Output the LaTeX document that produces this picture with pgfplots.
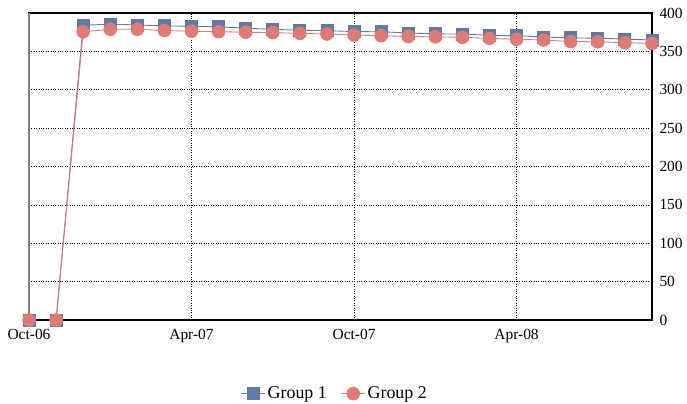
\documentclass[border=0pt]{standalone}
\usepackage{fontspec}
\setmainfont{Liberation Serif}
\usepackage{pgfplots}
\usepackage{pgfplotstable}
\pgfplotsset{compat=1.18}
\definecolor{grpA}{RGB}{96,122,166}
\definecolor{grpB}{RGB}{224,122,116}

% month index (0 = Oct-06), Group 1, Group 2
\pgfplotstableread{
m  g1     g2
0  0      0
1  0      0
2  384.0  375.5
3  385.5  378.8
4  384.4  378.8
5  383.2  377.2
6  382.8  376.3
7  382.0  375.6
8  380.2  375.0
9  378.8  374.4
10 377.5  373.5
11 377.0  372.6
12 375.8  371.3
13 375.5  370.4
14 374.0  369.3
15 372.8  369.0
16 372.5  368.3
17 371.0  367.0
18 370.4  365.7
19 368.7  364.8
20 367.6  362.8
21 367.2  362.5
22 366.0  361.3
23 364.8  360.3
}\datatable

\begin{document}
\begin{tikzpicture}
\path[use as bounding box] (0,0) rectangle (687bp,404bp);
\begin{axis}[
  at={(29bp,84bp)}, anchor=south west,
  scale only axis, width=623bp, height=307bp,
  xmin=0, xmax=23, ymin=0, ymax=400,
  xtick={0,6,12,18}, xticklabels={Oct-06,Apr-07,Oct-07,Apr-08},
  ytick={0,50,...,400},
  yticklabel pos=right,
  major tick length=0pt,
  grid=major, grid style={black, dotted, line width=0.7bp},
  axis line style={black, line width=1.2bp},
  tick label style={font=\fontsize{15.5}{18}\selectfont},
  xticklabel style={yshift=-6bp},
  yticklabel style={xshift=4bp},
  /pgf/number format/assume math mode=true,
  clip=false,
  legend columns=2,
  legend style={at={(0.491,-0.24)}, anchor=center, draw=none, fill=none,
    font=\fontsize{18}{20}\selectfont,
    /tikz/every even column/.append style={column sep=12bp}},
  legend image code/.code={\draw[mark repeat=2,mark phase=2]
    plot coordinates {(0cm,0cm)(0.42cm,0cm)(0.84cm,0cm)};},
]
\addplot[grpA, line width=0.9bp, mark=square*, mark size=6bp,
  mark options={fill=grpA, draw=grpA}] table[x=m, y=g1] {\datatable};
\addlegendentry{Group 1}
\addplot[grpB, line width=0.9bp, mark=*, mark size=6.3bp,
  mark options={fill=grpB, draw=grpB}] table[x=m, y=g2] {\datatable};
\addlegendentry{Group 2}
\draw[gray, line width=1.5bp] (rel axis cs:0,0) -- (rel axis cs:0,1);
\draw[black, line width=2bp] (rel axis cs:0,0) -- (rel axis cs:1,0);
\end{axis}
\end{tikzpicture}
\end{document}
